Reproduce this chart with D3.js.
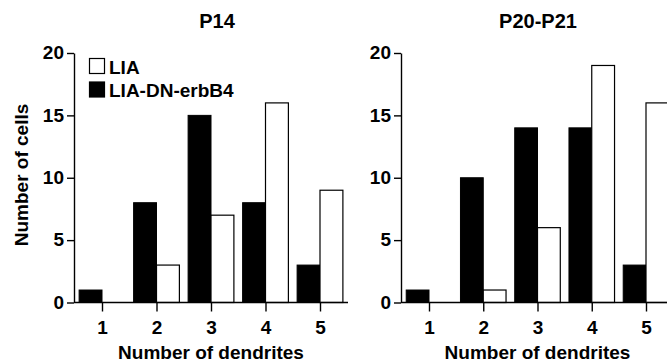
<!DOCTYPE html>
<html>
<head>
<meta charset="utf-8">
<script src="https://cdn.jsdelivr.net/npm/d3@7"></script>
<style>
  body { margin: 0; background: #fff; }
  svg { display: block; font-family: "Liberation Sans", Arial, Helvetica, sans-serif; font-weight: bold; }
</style>
</head>
<body>
<svg id="chart" width="667" height="363"></svg>
<script>
// data
const dendrites = [1, 2, 3, 4, 5];
const yTicks = [0, 5, 10, 15, 20];
const titles = ["P14", "P20-P21"];
const p14_LIA = [0, 3, 7, 16, 9];
const p14_DN = [1, 8, 15, 8, 3];
const p20_LIA = [0, 1, 6, 19, 16];
const p20_DN = [1, 10, 14, 14, 3];
const legendLabels = ["LIA", "LIA-DN-erbB4"];

const FS = 19;

const panels = [
    { title: titles[0], lia: p14_LIA, dn: p14_DN, axisX: 74, x1: 102, x5: 320, axisEnd: 348, titleX: 217, legend: true },
    { title: titles[1], lia: p20_LIA, dn: p20_DN, axisX: 401, x1: 429, x5: 646, axisEnd: 680, titleX: 538, legend: false }
];

const svg = d3.select("#chart");
const Y0 = 302.5, Y20 = 53;

const y = d3.scaleLinear().domain([0, 20]).range([Y0, Y20]);

panels.forEach(function (p) {
    const g = svg.append("g");
    const x = d3.scaleLinear().domain([1, 5]).range([p.x1, p.x5]);
    const bw = (x(2) - x(1)) * 0.42;

    // title
    g.append("text")
        .attr("x", p.titleX)
        .attr("y", 27.5)
        .attr("text-anchor", "middle")
        .attr("font-size", 20)
        .text(p.title);

    // black bars, left of the tick
    g.append("g").selectAll("rect")
        .data(p.dn)
        .join("rect")
        .attr("x", (d, i) => x(dendrites[i]) - bw)
        .attr("y", d => y(d))
        .attr("width", bw)
        .attr("height", d => Y0 - y(d))
        .attr("fill", "#000")
        .attr("stroke", "#000")
        .attr("stroke-width", 1);

    // white bars, right of the tick
    g.append("g").selectAll("rect")
        .data(p.lia.map((v, i) => ({ v: v, i: i })).filter(d => d.v > 0))
        .join("rect")
        .attr("x", d => x(dendrites[d.i]))
        .attr("y", d => y(d.v))
        .attr("width", bw)
        .attr("height", d => Y0 - y(d.v))
        .attr("fill", "#fff")
        .attr("stroke", "#000")
        .attr("stroke-width", 1.2);

    // y axis
    const ya = g.append("g")
        .attr("transform", `translate(${p.axisX},0)`)
        .call(d3.axisLeft(y).tickValues(yTicks).tickSize(7).tickSizeOuter(0));
    ya.attr("font-size", null).attr("font-family", null);
    ya.select(".domain").attr("stroke-width", 1.4);
    ya.selectAll(".tick line").attr("stroke-width", 1.4);
    ya.selectAll(".tick text")
        .attr("font-size", FS)
        .attr("x", -10)
        .attr("dy", "0.3em");

    // x axis
    g.append("line")
        .attr("x1", p.axisX).attr("x2", p.axisEnd)
        .attr("y1", Y0).attr("y2", Y0)
        .attr("stroke", "#000")
        .attr("stroke-width", 1.4);
    const xa = g.append("g")
        .attr("transform", `translate(0,${Y0})`)
        .call(d3.axisBottom(x).tickValues(dendrites).tickSize(9).tickFormat(d3.format("d")));
    xa.attr("font-size", null).attr("font-family", null);
    xa.select(".domain").remove();
    xa.selectAll(".tick line").attr("stroke-width", 1.4);
    xa.selectAll(".tick text")
        .attr("font-size", FS)
        .attr("y", 31)
        .attr("dy", 0);

    g.append("text")
        .attr("x", (x(1) + x(5)) / 2)
        .attr("y", 359)
        .attr("text-anchor", "middle")
        .attr("font-size", FS)
        .text("Number of dendrites");

    if (p.legend) {
        const rows = [{ label: legendLabels[0], fill: "#fff", yy: 58.5 }, { label: legendLabels[1], fill: "#000", yy: 82 }];
        const lg = g.append("g");
        rows.forEach(function (r) {
            lg.append("rect")
                .attr("x", 89.5).attr("y", r.yy)
                .attr("width", 15).attr("height", 15)
                .attr("fill", r.fill)
                .attr("stroke", "#000")
                .attr("stroke-width", 1.2);
            lg.append("text")
                .attr("x", 109).attr("y", r.yy + 15)
                .attr("font-size", FS)
                .text(r.label);
        });
    }
});

// y axis title
svg.append("text")
    .attr("transform", "translate(28,175) rotate(-90)")
    .attr("text-anchor", "middle")
    .attr("font-size", FS)
    .text("Number of cells");
</script>
</body>
</html>
